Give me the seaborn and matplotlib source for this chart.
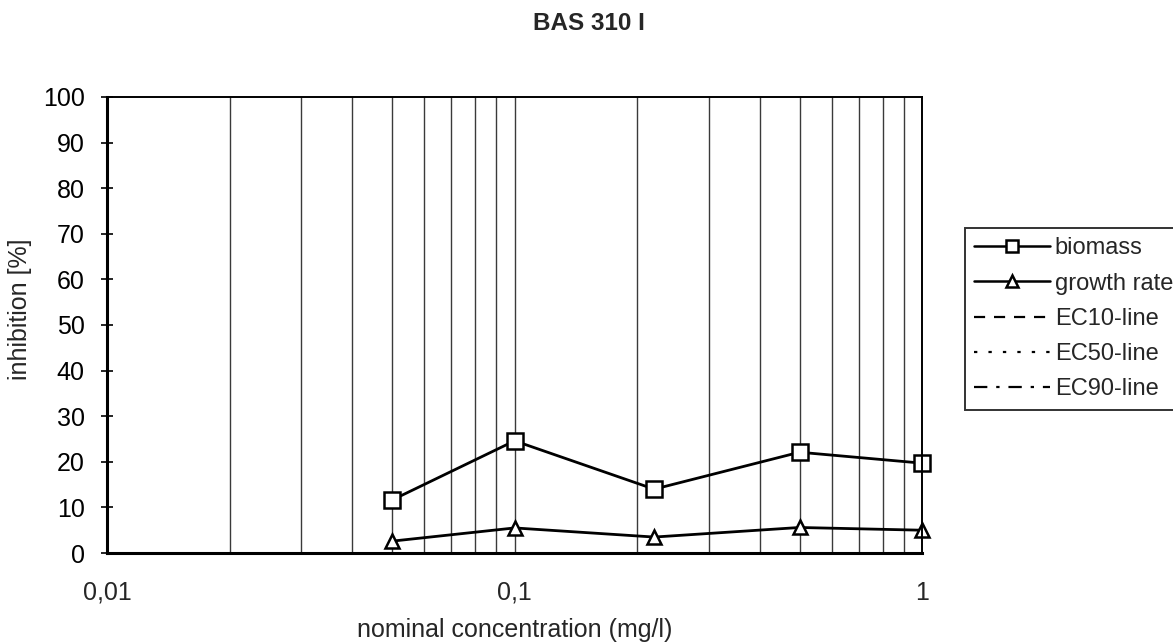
import matplotlib
matplotlib.use("Agg")
import matplotlib.pyplot as plt
import seaborn as sns
import pandas as pd
from matplotlib.lines import Line2D
from matplotlib.ticker import FixedLocator, FixedFormatter, NullFormatter

sns.set_theme(style="white")
plt.rcParams['font.family'] = ['Liberation Sans', 'DejaVu Sans']

concentration = [0.05, 0.1, 0.22, 0.5, 1.0]
biomass = [11.6, 24.6, 14.0, 22.1, 19.7]
growth_rate = [2.6, 5.5, 3.5, 5.6, 5.0]
x_ticks = [0.01, 0.1, 1]
x_tick_labels = ["0,01", "0,1", "1"]
y_ticks = [0, 10, 20, 30, 40, 50, 60, 70, 80, 90, 100]

df = pd.DataFrame({
    "conc": concentration * 2,
    "inhibition": biomass + growth_rate,
    "series": ["biomass"] * len(biomass) + ["growth rate"] * len(growth_rate),
})

fig = plt.figure(figsize=(11.73, 6.42), dpi=100)
ax = fig.add_axes([0.0912, 0.1386, 0.695, 0.7104])

common = dict(color="black", linewidth=2.0, markerfacecolor="white",
              markeredgecolor="black", markeredgewidth=1.8, legend=False, clip_on=False)
sns.lineplot(data=df[df.series == "biomass"], x="conc", y="inhibition", ax=ax,
             marker="s", markersize=11, **common)
sns.lineplot(data=df[df.series == "growth rate"], x="conc", y="inhibition", ax=ax,
             marker="^", markersize=10, **common)

ax.set_xscale("log")
ax.set_xlim(0.01, 1)
ax.set_ylim(0, 100)
ax.xaxis.set_major_locator(FixedLocator(x_ticks))
ax.xaxis.set_major_formatter(FixedFormatter(x_tick_labels))
ax.xaxis.set_minor_locator(FixedLocator([k * 0.01 for k in range(2, 10)] + [k * 0.1 for k in range(2, 10)]))
ax.xaxis.set_minor_formatter(NullFormatter())
ax.set_yticks(y_ticks)
ax.grid(True, which="both", axis="x", color="#3a3a3a", linewidth=1.0)
ax.grid(False, axis="y")

for s in ax.spines.values():
    s.set_color("black")
    s.set_linewidth(1.4)
ax.spines["left"].set_linewidth(2.2)
ax.spines["bottom"].set_linewidth(2.2)

ax.tick_params(axis="y", which="major", direction="inout", length=8, width=1.2, colors="black",
               labelsize=18, left=True, pad=12)
ax.tick_params(axis="x", which="major", length=0, labelsize=18, pad=20)
ax.tick_params(axis="x", which="minor", length=0)

ax.set_xlabel("nominal concentration (mg/l)", fontsize=18)
ax.xaxis.set_label_coords(0.5, -0.142)
ax.set_ylabel("inhibition [%]", fontsize=18)
ax.yaxis.set_label_coords(-0.092, 0.535)
fig.text(0.502, 0.963, "BAS 310 I", ha="center", va="center", fontsize=17.5, fontweight="bold")

handles = [
    Line2D([], [], color="black", lw=1.8, marker="s", markersize=8, markerfacecolor="white", markeredgewidth=1.8),
    Line2D([], [], color="black", lw=1.8, marker="^", markersize=8, markerfacecolor="white", markeredgewidth=1.8),
    Line2D([], [], color="black", lw=1.6, ls=(0, (5, 4))),
    Line2D([], [], color="black", lw=1.6, ls=(0, (1.5, 5))),
    Line2D([], [], color="black", lw=1.6, ls=(0, (6, 4, 1.5, 4))),
]
labels = ["biomass", "growth rate", "EC10-line", "EC50-line", "EC90-line"]
leg = fig.legend(handles, labels, loc="upper left", bbox_to_anchor=(0.8227, 0.6449),
                 fontsize=17, frameon=True, fancybox=False, handlelength=3.2,
                 handletextpad=0.2, labelspacing=0.56, borderpad=0.4, borderaxespad=0)
leg.get_frame().set_edgecolor("black")
leg.get_frame().set_linewidth(1.4)

fig.savefig("out.png", dpi=100, facecolor="white")
